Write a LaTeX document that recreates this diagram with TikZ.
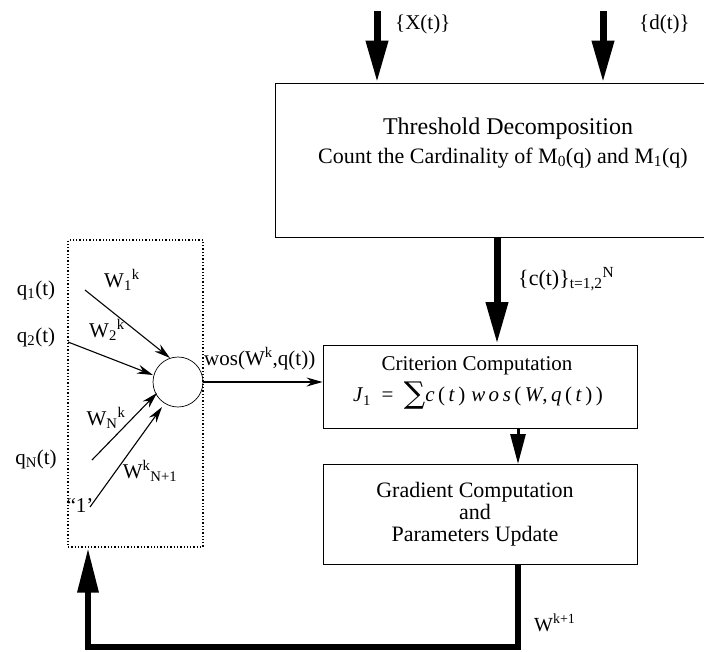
\documentclass[tikz,border=0pt]{standalone}
\usepackage{fontspec}
\setmainfont{Liberation Serif}
\newfontfamily\sumfont{DejaVu Serif}
\usetikzlibrary{arrows.meta}
\begin{document}
\begin{tikzpicture}[x=1pt,y=-1pt,
  blk/.style={draw,line width=0.9pt,inner sep=0},
  thick arr/.style={line width=7pt,-{Triangle[width=21pt,length=42pt]}},
  thin arr/.style={line width=1.1pt,-{Stealth[width=9pt,length=16pt]}},
  lbl/.style={inner sep=1pt,font=\fontsize{21}{23}\selectfont}]
\useasboundingbox (0,0) rectangle (704,651);
% boxes
\node[blk,minimum width=430pt,minimum height=154pt] (thr) at (490,160) {};
\node[font=\fontsize{24}{26}\selectfont] (t1) at (508,129) {Threshold Decomposition};
\node[font=\fontsize{22}{24}\selectfont] (t2) at (503,158) {Count the Cardinality of M\textsubscript{0}(q) and M\textsubscript{1}(q)};
\node[blk,minimum width=314pt,minimum height=83pt] (crit) at (480,386.5) {};
\node[font=\fontsize{21}{23}\selectfont] (c1) at (477,366) {Criterion Computation};
\node[font=\fontsize{21}{23}\selectfont] (c2) at (478,396) {\textit{J}\textsubscript{1}\enspace=\enspace{\sumfont\fontsize{30}{30}\selectfont\raisebox{-2pt}{∑}}\textit{c}\,(\,\textit{t}\,)\;\textit{w\,o\,s}\,(\,\textit{W},\,\textit{q}\,(\,\textit{t}\,)\,)};
\node[blk,minimum width=314pt,minimum height=100pt] (grad) at (480,514) {};
\node[font=\fontsize{22}{22}\selectfont,align=center] (g1) at (475,514) {Gradient Computation\\and\\Parameters Update};
% dotted box
\node[draw,dotted,line width=1.3pt,minimum width=135pt,minimum height=307pt,inner sep=0] (dot) at (135.5,393.5) {};
\node[draw,circle,line width=0.7pt,minimum size=50pt,inner sep=0] (neu) at (178,382) {};
% inputs
\coordinate (i1) at (85,290);
\coordinate (i2) at (68,342);
\coordinate (i3) at (92,460);
\coordinate (i4) at (90,507);
\draw[thin arr] (i1) -- (170,358);
\draw[thin arr] (i2) -- (153,375);
\draw[thin arr] (i3) -- (157,393);
\draw[thin arr] (i4) -- (162,407);
\node[lbl] (q1) at (36,290) {q\textsubscript{1}(t)};
\node[lbl] (q2) at (36,337) {q\textsubscript{2}(t)};
\node[lbl] (qn) at (36,459) {q\textsubscript{N}(t)};
\node[lbl] (w1) at (122,280) {W\textsubscript{1}\textsuperscript{k}};
\node[lbl] (w2) at (107,330) {W\textsubscript{2}\textsuperscript{k}};
\node[lbl] (wn) at (106,418) {W\textsubscript{N}\textsuperscript{k}};
\node[lbl] (wn1) at (150,471) {W\textsuperscript{k}\textsubscript{N+1}};
\node[lbl] (one) at (80,505) {“1’};
\node[lbl,anchor=south west] (wos) at (203,371) {wos(W\textsuperscript{k},q(t))};
\draw[thin arr] (neu.east) -- (crit.west|-neu.east);
% thick arrows
\coordinate (xs) at (377,11);
\coordinate (ds) at (603,11);
\draw[thick arr] (xs) -- (xs|-thr.north);
\draw[thick arr] (ds) -- (ds|-thr.north);
\node[lbl,anchor=west] (xl) at (394,24) {\{X(t)\}};
\node[lbl,anchor=west] (dl) at (638,24) {\{d(t)\}};
\draw[thick arr] (497,237) -- (497,344);
\node[lbl,anchor=west,font=\fontsize{22}{24}\selectfont] (cl) at (517,279) {\{c(t)\}\textsubscript{t=1,2}\textsuperscript{N}};
\draw[line width=3pt,-{Triangle[width=15pt,length=30pt]}] (518,428) -- (518,464);
% feedback
\coordinate (fb1) at (518,647);
\coordinate (fb2) at (88,647);
\draw[line width=6.5pt,-{Triangle[width=20pt,length=45pt]}] (grad.south-|fb1) -- (fb1) -- (fb2) -- (fb2|-dot.south);
\node[lbl,anchor=west,font=\fontsize{20}{22}\selectfont] (wk) at (533,623) {W\textsuperscript{k+1}};
\end{tikzpicture}
\end{document}
